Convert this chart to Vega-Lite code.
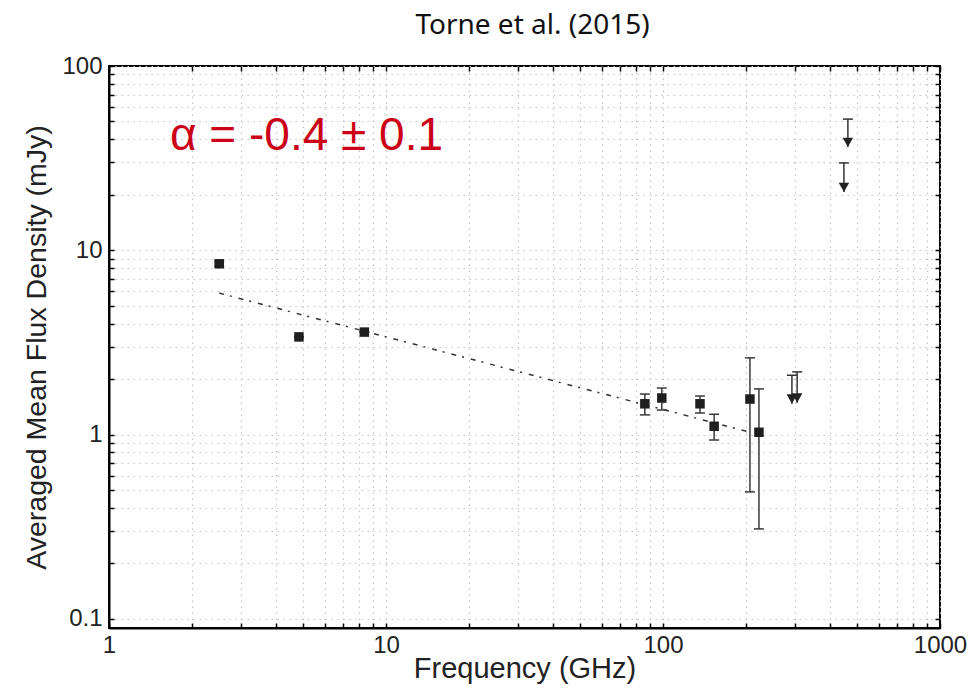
{
  "$schema": "https://vega.github.io/schema/vega-lite/v6.json",
  "width": 831,
  "height": 562,
  "autosize": {"type": "none"},
  "padding": {"left": 109, "top": 66, "right": 33, "bottom": 63},
  "background": "white",
  "title": {"text": "Torne et al. (2015)", "font": "Noto Sans", "fontSize": 28, "fontWeight": "normal", "color": "#111111", "anchor": "middle", "dx": 8, "offset": -8, "baseline": "alphabetic"},
  "config": {
    "view": {"stroke": "black", "strokeWidth": 2},
    "axis": {
      "gridColor": "#c4c4c4", "gridDash": [1.5, 4.5], "gridWidth": 1.2,
      "domainColor": "black", "domainWidth": 2,
      "tickColor": "black", "tickSize": -5, "tickWidth": 1.5,
      "labelFont": "Liberation Sans", "labelFontSize": 24, "labelColor": "#222222", "labelFlush": false,
      "titleFont": "Liberation Sans", "titleFontSize": 29, "titleFontWeight": "normal", "titleColor": "#222222"
    }
  },
  "datasets": {
    "fit": [{"f": 2.5, "s": 5.86}, {"f": 206, "s": 1.03}],
    "points": [
      {"f": 2.5, "s": 8.45, "lo": 8.2, "hi": 8.7},
      {"f": 4.85, "s": 3.39, "lo": 3.39, "hi": 3.39},
      {"f": 8.35, "s": 3.6, "lo": 3.6, "hi": 3.6},
      {"f": 86, "s": 1.47, "lo": 1.28, "hi": 1.66},
      {"f": 99, "s": 1.58, "lo": 1.36, "hi": 1.79},
      {"f": 136, "s": 1.47, "lo": 1.31, "hi": 1.62},
      {"f": 153, "s": 1.11, "lo": 0.935, "hi": 1.29},
      {"f": 206, "s": 1.56, "lo": 0.489, "hi": 2.61},
      {"f": 222, "s": 1.03, "lo": 0.308, "hi": 1.77}
    ],
    "limits": [
      {"f": 292, "cap": 2.1, "tip": 1.47},
      {"f": 305, "cap": 2.19, "tip": 1.49},
      {"f": 450, "cap": 29.8, "tip": 20.7},
      {"f": 465, "cap": 51.5, "tip": 36.3}
    ],
    "note": [{"label": "α = -0.4 ± 0.1"}]
  },
  "resolve": {"axis": {"x": "independent", "y": "independent"}},
  "layer": [
    {
      "layer": [
        {
          "data": {"name": "fit"},
          "mark": {"type": "line", "color": "#333333", "strokeWidth": 1.5, "strokeDash": [5, 6, 2, 7]},
          "encoding": {
            "x": {"field": "f", "type": "quantitative",
              "scale": {"type": "log", "domain": [1, 1000], "nice": false},
              "axis": {"orient": "bottom", "grid": true, "title": "Frequency (GHz)", "format": "~g",
                "values": [1,2,3,4,5,6,7,8,9,10,20,30,40,50,60,70,80,90,100,200,300,400,500,600,700,800,900,1000],
                "labelExpr": "abs(log(datum.value)/LN10 - round(log(datum.value)/LN10)) < 0.000001 ? datum.label : ''",
                "labelPadding": 10, "titlePadding": -3}},
            "y": {"field": "s", "type": "quantitative",
              "scale": {"type": "log", "domain": [0.0893, 100], "nice": false},
              "axis": {"orient": "left", "grid": true, "title": "Averaged Mean Flux Density (mJy)", "format": "~g",
                "values": [0.1,0.2,0.3,0.4,0.5,0.6,0.7,0.8,0.9,1,2,3,4,5,6,7,8,9,10,20,30,40,50,60,70,80,90,100],
                "labelExpr": "abs(log(datum.value)/LN10 - round(log(datum.value)/LN10)) < 0.000001 ? datum.label : ''",
                "labelPadding": 12, "titlePadding": 10, "titleFontSize": 28.5}}
          }
        },
        {
          "data": {"name": "points"},
          "mark": {"type": "rule", "color": "#3a3a3a", "strokeWidth": 1.5},
          "encoding": {
            "x": {"field": "f", "type": "quantitative"},
            "y": {"field": "lo", "type": "quantitative"},
            "y2": {"field": "hi"}
          }
        },
        {
          "data": {"name": "points"},
          "mark": {"type": "point", "shape": "stroke", "size": 100, "color": "#3a3a3a", "strokeWidth": 1.5, "filled": false, "opacity": 1},
          "encoding": {
            "x": {"field": "f", "type": "quantitative"},
            "y": {"field": "lo", "type": "quantitative"}
          }
        },
        {
          "data": {"name": "points"},
          "mark": {"type": "point", "shape": "stroke", "size": 100, "color": "#3a3a3a", "strokeWidth": 1.5, "filled": false, "opacity": 1},
          "encoding": {
            "x": {"field": "f", "type": "quantitative"},
            "y": {"field": "hi", "type": "quantitative"}
          }
        },
        {
          "data": {"name": "points"},
          "mark": {"type": "point", "shape": "square", "size": 90, "color": "#1e1e1e", "filled": true, "opacity": 1},
          "encoding": {
            "x": {"field": "f", "type": "quantitative"},
            "y": {"field": "s", "type": "quantitative"}
          }
        },
        {
          "data": {"name": "limits"},
          "mark": {"type": "rule", "color": "#333333", "strokeWidth": 1.5},
          "encoding": {
            "x": {"field": "f", "type": "quantitative"},
            "y": {"field": "cap", "type": "quantitative"},
            "y2": {"field": "tip"}
          }
        },
        {
          "data": {"name": "limits"},
          "mark": {"type": "point", "shape": "stroke", "size": 100, "color": "#333333", "strokeWidth": 1.5, "filled": false, "opacity": 1},
          "encoding": {
            "x": {"field": "f", "type": "quantitative"},
            "y": {"field": "cap", "type": "quantitative"}
          }
        },
        {
          "data": {"name": "limits"},
          "mark": {"type": "point", "shape": "M-1,-1.8L1,-1.8L0,0Z", "size": 110, "color": "#222222", "filled": true, "opacity": 1},
          "encoding": {
            "x": {"field": "f", "type": "quantitative"},
            "y": {"field": "tip", "type": "quantitative"}
          }
        },
        {
          "data": {"name": "note"},
          "mark": {"type": "text", "font": "Liberation Sans", "fontSize": 46, "color": "#cc0016", "align": "left", "baseline": "alphabetic"},
          "encoding": {
            "text": {"field": "label", "type": "nominal"},
            "x": {"datum": 1.66, "type": "quantitative"},
            "y": {"datum": 35, "type": "quantitative"}
          }
        }
      ]
    },
    {
      "data": {"name": "fit"},
      "mark": {"type": "point", "opacity": 0},
      "encoding": {
        "x": {"field": "f", "type": "quantitative",
          "axis": {"orient": "top", "grid": false, "labels": false, "domain": false, "title": null,
            "values": [1,2,3,4,5,6,7,8,9,10,20,30,40,50,60,70,80,90,100,200,300,400,500,600,700,800,900,1000]}},
        "y": {"field": "s", "type": "quantitative",
          "axis": {"orient": "right", "grid": false, "labels": false, "domain": false, "title": null,
            "values": [0.1,0.2,0.3,0.4,0.5,0.6,0.7,0.8,0.9,1,2,3,4,5,6,7,8,9,10,20,30,40,50,60,70,80,90,100]}}
      }
    }
  ]
}
